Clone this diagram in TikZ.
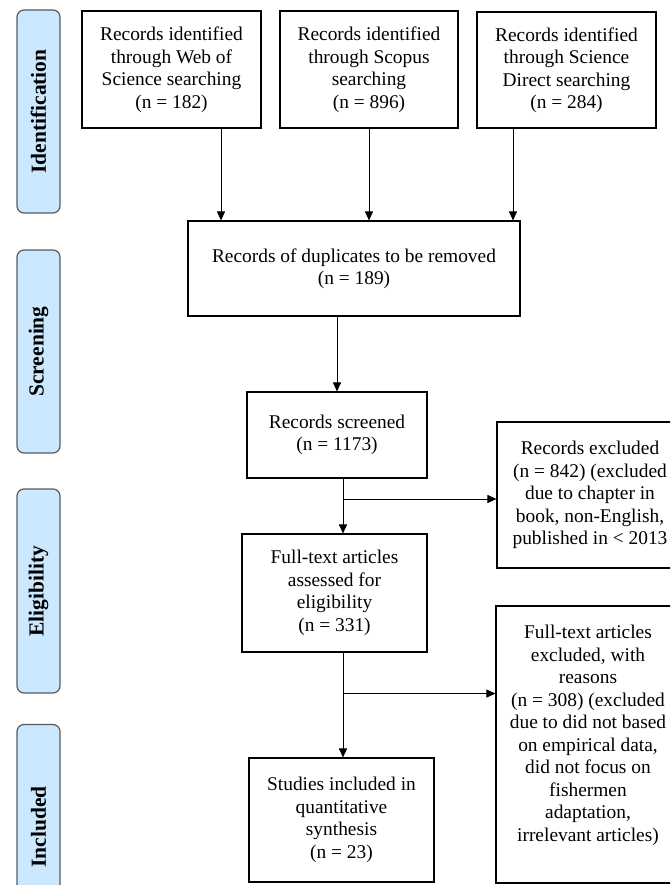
\documentclass[tikz,border=0pt]{standalone}
\usepackage{fontspec}
\setmainfont{Liberation Serif}
\usetikzlibrary{arrows.meta}
\definecolor{phasefill}{RGB}{204,232,255}
\definecolor{phaseline}{RGB}{90,90,90}

\begin{document}
\begin{tikzpicture}[x=1pt, y=-1pt,
	box/.style={draw, line width=1.1pt, align=center, inner sep=2pt, font=\fontsize{19.4}{22.5}\selectfont},
	phase/.style={draw=phaseline, fill=phasefill, line width=1.2pt, rounded corners=7pt, rotate=90, minimum height=43pt, font=\bfseries\fontsize{21.5}{24}\selectfont},
	arr/.style={line width=0.9pt, arrows={-Triangle[length=9pt, width=8pt]}}]
	\useasboundingbox (0,0) rectangle (670,885);
	\clip (0,0) rectangle (670,885);
	% phase labels
	\node [phase, minimum width=203pt] (ident) at (38.5,111.5) {Identification};
	\node [phase, minimum width=203pt] (screen) at (38.5,351.5) {Screening};
	\node [phase, minimum width=204pt] (elig) at (38.5,591) {Eligibility};
	\node [phase, minimum width=205pt] (incl) at (38.5,827) {Included};
	% boxes
	\node [box, minimum width=179pt, minimum height=117pt] (wos) at (171.5,69.5) {Records identified\\through Web of\\Science searching\\(n = 182)};
	\node [box, minimum width=178pt, minimum height=117pt] (scopus) at (369,69.5) {Records identified\\through Scopus\\searching\\(n = 896)};
	\node [box, minimum width=179pt, minimum height=116pt] (sd) at (566.5,70) {Records identified\\through Science\\Direct searching\\(n = 284)};
	\node [box, minimum width=332pt, minimum height=95pt] (dup) at (354,268.5) {Records of duplicates to be removed\\(n = 189)};
	\node [box, minimum width=180pt, minimum height=86pt] (screened) at (337,435) {Records screened\\(n = 1173)};
	\node [box, minimum width=186pt, minimum height=146pt] (excla) at (590,495) {Records excluded\\(n = 842) (excluded\\due to chapter in\\book, non-English,\\published in < 2013};
	\node [box, minimum width=185pt, minimum height=118pt] (fulltext) at (334.5,593) {Full-text articles\\assessed for\\eligibility\\(n = 331)};
	\node [box, minimum width=184pt, minimum height=277pt, text depth=22pt] (exclb) at (588,744.5) {Full-text articles\\excluded, with\\reasons\\(n = 308) (excluded\\due to did not based\\on empirical data,\\did not focus on\\fishermen\\adaptation,\\irrelevant articles)};
	\node [box, minimum width=185pt, minimum height=124pt] (studies) at (341.5,820) {Studies included in\\quantitative\\synthesis\\(n = 23)};
	% connectors
	\draw [arr] ([xshift=49.5pt]wos.south) -- ([xshift=49.5pt]wos.south |- dup.north);
	\draw [arr] (scopus.south) -- (scopus.south |- dup.north);
	\draw [arr] ([xshift=-53.5pt]sd.south) -- ([xshift=-53.5pt]sd.south |- dup.north);
	\draw [arr] (screened |- dup.south) -- (screened.north);
	\draw [arr] ([xshift=6pt]screened.south) -- ([xshift=6pt]screened.south |- fulltext.north);
	\coordinate (forka) at ([xshift=6pt, yshift=-4pt]screened.south |- excla.west);
	\draw [arr] (forka) -- (forka -| excla.west);
	\draw [arr] ([xshift=8.5pt]fulltext.south) -- ([xshift=8.5pt]fulltext.south |- studies.north);
	\coordinate (forkb) at ([xshift=8.5pt, yshift=-41pt]fulltext.south);
	\draw [arr] (forkb) -- (forkb -| exclb.west);
\end{tikzpicture}
\end{document}
